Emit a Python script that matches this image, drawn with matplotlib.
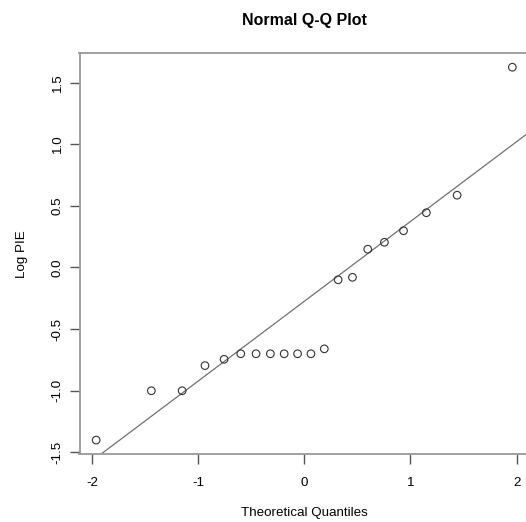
import matplotlib.pyplot as plt
import numpy as np

plt.rcParams['font.family'] = ['Liberation Sans', 'DejaVu Sans']

# theoretical normal quantiles (n = 20) and sorted sample values
theo_q = [-1.960, -1.440, -1.150, -0.935, -0.755, -0.598, -0.454, -0.319, -0.189, -0.063,
          0.063, 0.189, 0.319, 0.454, 0.598, 0.755, 0.935, 1.150, 1.440, 1.960]
log_pie = [-1.40, -1.00, -1.00, -0.796, -0.745, -0.70, -0.70, -0.70, -0.70, -0.70,
           -0.70, -0.66, -0.10, -0.08, 0.148, 0.204, 0.298, 0.444, 0.586, 1.624]

W, H = 526, 522
fig = plt.figure(figsize=(W / 100, H / 100), dpi=100)
# axes box in pixels: left 79, right 529 (cropped), top 53, bottom 454
ax = fig.add_axes([79.5 / W, 1 - 454 / H, (529 - 79.5) / W, (454 - 53.3) / H])

ax.scatter(theo_q, log_pie, s=30, facecolors='none', edgecolors='#333333', linewidths=0.8, zorder=3)

# qq line through the quartiles
yq = np.percentile(log_pie, [25, 75])
xq = np.array([-0.6745, 0.6745])
slope = (yq[1] - yq[0]) / (xq[1] - xq[0])
icpt = yq[0] - slope * xq[0]
xs = np.array([-3, 3])
ax.plot(xs, icpt + slope * xs, color='#707070', lw=0.9)

ax.set_xlim(-2.117, 2.117)
ax.set_ylim(-1.513, 1.737)
ax.set_xticks([-2, -1, 0, 1, 2])
ax.set_yticks([-1.5, -1.0, -0.5, 0.0, 0.5, 1.0, 1.5])
ax.set_xticklabels(['-2', '-1', '0', '1', '2'])
ax.set_yticklabels(['-1.5', '-1.0', '-0.5', '0.0', '0.5', '1.0', '1.5'], rotation=90, va='center')

for s in ax.spines.values():
    s.set_color('#999999')
    s.set_linewidth(1.3)
ax.tick_params(direction='out', length=7, width=1, color='#555555', labelsize=9.6)
ax.tick_params(axis='x', pad=9.5)
ax.tick_params(axis='y', pad=4.5)

fig.text(304 / W, 1 - 513 / H, 'Theoretical Quantiles', fontsize=9.6, ha='center', va='center')
fig.text(22 / W, 1 - 254 / H, 'Log PIE', fontsize=9.6, rotation=90, ha='center', va='center')
fig.text(304 / W, 1 - 20 / H, 'Normal Q-Q Plot', fontsize=11.5, fontweight='bold', ha='center', va='center')

fig.savefig('out.png', dpi=100)
